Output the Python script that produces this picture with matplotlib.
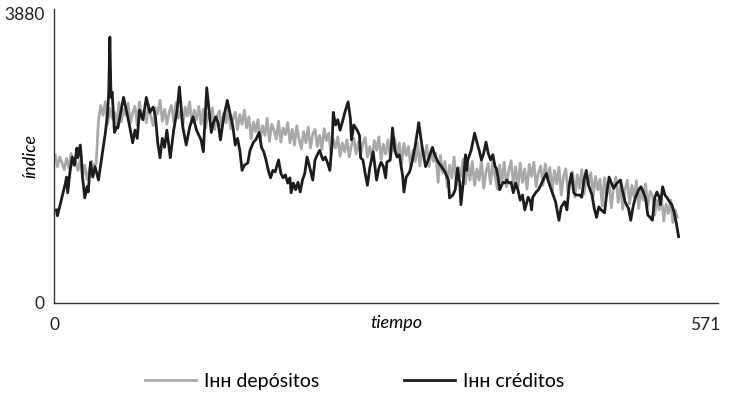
import numpy as np
import matplotlib.pyplot as plt

plt.rcParams['font.family'] = ['Lato', 'DejaVu Sans']

# IHH creditos: time index and value
cred_t = [2, 3, 7, 10, 11, 12, 14, 16, 18, 20, 21, 23, 24, 25, 27, 29, 30, 32, 34, 36,
          39, 42, 45, 47, 48, 49, 50, 51, 53, 55, 56, 61, 64, 67, 69, 71, 73, 75, 78, 81,
          84, 87, 89, 91, 93, 95, 97, 99, 102, 105, 108, 110, 113, 116, 119, 122, 125, 129, 131, 134,
          138, 140, 142, 144, 146, 149, 152, 155, 157, 159, 161, 163, 165, 167, 170, 172, 175, 177, 180, 182,
          184, 186, 188, 190, 192, 194, 197, 199, 201, 203, 205, 207, 208, 210, 212, 214, 216, 218, 220, 222,
          225, 227, 229, 231, 233, 235, 236, 238, 240, 242, 244, 245, 247, 249, 251, 253, 255, 258, 260, 261,
          263, 266, 268, 269, 271, 273, 275, 277, 280, 282, 283, 285, 287, 289, 291, 292, 295, 297, 299, 301,
          303, 306, 307, 309, 312, 314, 317, 320, 323, 326, 329, 332, 334, 337, 340, 343, 346, 347, 350, 352,
          354, 356, 357, 359, 361, 362, 363, 366, 369, 371, 373, 375, 377, 379, 381, 383, 385, 387, 388, 390,
          391, 394, 396, 397, 399, 401, 403, 405, 407, 409, 411, 413, 416, 418, 419, 420, 423, 425, 427, 430,
          432, 434, 437, 440, 443, 445, 448, 450, 452, 454, 456, 458, 461, 463, 465, 467, 469, 472, 474, 476,
          478, 480, 483, 485, 487, 489, 491, 494, 497, 499, 501, 504, 506, 508, 510, 513, 515, 517, 519, 521,
          523, 525, 527, 529, 531, 532, 534, 536, 538, 540, 542, 544, 546, 548]
cred_v = [1250, 1170, 1420, 1610, 1690, 1480, 1760, 1960, 1850, 2080, 1950, 2120, 1960, 1690, 1410, 1560, 1490, 1890, 1690, 1830,
          1650, 1960, 2280, 2550, 2830, 3570, 2760, 2830, 2290, 2360, 2350, 2760, 2550, 2320, 2150, 2320, 2210, 2590, 2460, 2760,
          2560, 2630, 2500, 2150, 1950, 2210, 2090, 2320, 1950, 2320, 2590, 2900, 2360, 2120, 2360, 2500, 2320, 2190, 2030, 2890,
          2290, 2430, 2500, 2420, 2190, 2500, 2720, 2500, 2360, 2120, 2210, 2050, 1780, 1850, 1880, 2050, 2160, 2190, 2290, 2090,
          2030, 1920, 1780, 1680, 1780, 1760, 1920, 1740, 1680, 1720, 1610, 1680, 1480, 1610, 1520, 1620, 1490, 1650, 1740, 1960,
          1780, 1650, 1920, 1990, 2050, 1960, 1920, 1960, 1880, 1780, 2150, 2560, 2390, 2460, 2320, 2430, 2550, 2700, 2480, 2190,
          2390, 2320, 2250, 1950, 1920, 1740, 1580, 1810, 2030, 1780, 1650, 1810, 1890, 1830, 1680, 1890, 1920, 2350, 2050, 1960,
          1990, 1690, 1490, 1690, 1760, 1880, 2120, 2420, 2090, 1830, 1950, 2090, 1990, 1890, 1830, 1760, 1650, 1410, 1450, 1520,
          1810, 1610, 1320, 1610, 1990, 1780, 1920, 2050, 2280, 2160, 2050, 1920, 2010, 2160, 2010, 1920, 1990, 1830, 1810, 1650,
          1520, 1620, 1610, 1650, 1610, 1620, 1480, 1610, 1520, 1380, 1450, 1250, 1420, 1360, 1250, 1420, 1490, 1520, 1580, 1680,
          1740, 1620, 1490, 1360, 1110, 1290, 1360, 1250, 1580, 1740, 1480, 1450, 1450, 1420, 1650, 1780, 1580, 1450, 1270, 1150,
          1290, 1250, 1210, 1480, 1690, 1610, 1540, 1610, 1650, 1490, 1360, 1270, 1110, 1290, 1410, 1520, 1560, 1490, 1410, 1180,
          1150, 1110, 1410, 1490, 1420, 1320, 1560, 1450, 1410, 1360, 1320, 1220, 1070, 890]

# IHH depositos: every second period
dep_t = np.arange(1, 548, 2)
dep_v = [1990, 1830, 1960, 1880, 1790, 1940, 1810, 2010, 1850, 1900, 1780, 1920,
         1700, 1850, 1660, 1780, 1900, 1820, 1880,
         2450, 2650, 2520, 2700, 2400, 2610, 2480, 2560, 2380, 2690, 2430, 2600, 2520, 2680, 2410,
         2550, 2640, 2390, 2700, 2470, 2590, 2420, 2660, 2500, 2380, 2620, 2540, 2720, 2440, 2600,
         2400, 2560, 2650, 2430, 2690, 2480, 2580, 2380, 2630, 2510, 2700, 2420, 2590, 2460, 2640,
         2400, 2600, 2350, 2540, 2460, 2620, 2330, 2500, 2580, 2370, 2550, 2420, 2610, 2340, 2480,
         2560, 2330, 2530, 2400, 2590, 2350, 2500,
         2200, 2430, 2300, 2460, 2180, 2380, 2250, 2480, 2170, 2400, 2320, 2200, 2440, 2160, 2350,
         2260, 2420, 2150,
         2330, 2120, 2380, 2200, 2070, 2300, 2150, 2360, 2080, 2270, 2330, 2100, 2250, 2060, 2340,
         2180, 2280,
         2000, 2200, 2080, 2230, 1970, 2150, 2030, 2190, 1960, 2120, 2210, 2000, 2160, 1980, 2140,
         2220, 1960, 2100, 1940, 2180, 2050, 2230, 1930, 2130, 2000, 2190, 1950, 2080, 2200, 1970, 2150,
         1870, 2140, 1980, 2100, 1820, 2050, 1900, 2150, 1840, 2080, 1950, 2120, 1830, 2060, 1900, 2010,
         1620, 1980, 1750, 1900, 1560, 1850, 1680, 1960, 1580, 1820, 1700, 1930, 1600, 1880, 1650,
         1900, 1580, 1800, 1650, 1920, 1540, 1760, 1870, 1600, 1900, 1700, 1530, 1850, 1620, 1890,
         1560, 1780, 1910, 1600, 1830, 1550,
         1880, 1620, 1800, 1530, 1860, 1700, 1890, 1560, 1750, 1840, 1580, 1870, 1650, 1820,
         1500, 1780, 1600, 1820, 1450, 1700, 1800, 1480, 1650, 1760, 1420, 1720, 1540, 1790, 1460,
         1680, 1600, 1750, 1430, 1700, 1520, 1660,
         1300, 1680, 1450, 1620, 1280, 1560, 1690, 1350, 1600, 1260, 1520, 1650, 1330, 1580, 1420,
         1640, 1270, 1540, 1380, 1600, 1300, 1500,
         1440, 1180, 1380, 1250, 1420, 1100, 1330, 1200, 1380, 1080, 1250, 1150]

x_max = 571
y_max = 3880

fig = plt.figure(figsize=(7.31, 3.97), dpi=100)
ax = fig.add_axes([0.0739, 0.2368, 0.909, 0.7393])

ax.plot(dep_t, dep_v, color='#a9a9a9', lw=2.0, label='Iʜʜ depósitos')
ax.plot(cred_t, cred_v, color='#1c1c1c', lw=2.0, label='Iʜʜ créditos')

ax.set_xlim(0, 583)
ax.set_ylim(0, 3940)
ax.set_xticks([0, x_max])
ax.set_xticklabels(['0', str(x_max)])
ax.set_yticks([0, y_max])
ax.set_yticklabels(['0', str(y_max)])
ax.tick_params(length=0, labelsize=12.5, colors='#222222')
ax.tick_params(axis='x', pad=10)
ax.tick_params(axis='y', pad=7)

for s in ['top', 'right']:
    ax.spines[s].set_visible(False)
for s in ['left', 'bottom']:
    ax.spines[s].set_color('#333333')
    ax.spines[s].set_linewidth(1.0)

ax.set_xlabel('tiempo', style='italic', fontsize=13)
ax.xaxis.label.set_va('center')
ax.xaxis.set_label_coords(0.515, -0.068)
ax.set_ylabel('índice', style='italic', fontsize=13)
ax.yaxis.label.set_va('center')
ax.yaxis.set_label_coords(-0.036, 0.5)

fig.legend(loc='center', bbox_to_anchor=(0.485, 0.04), ncol=2, frameon=False,
           fontsize=14, handlelength=2.6, handletextpad=0.4, columnspacing=4.4)

fig.savefig('out.png', dpi=100)
